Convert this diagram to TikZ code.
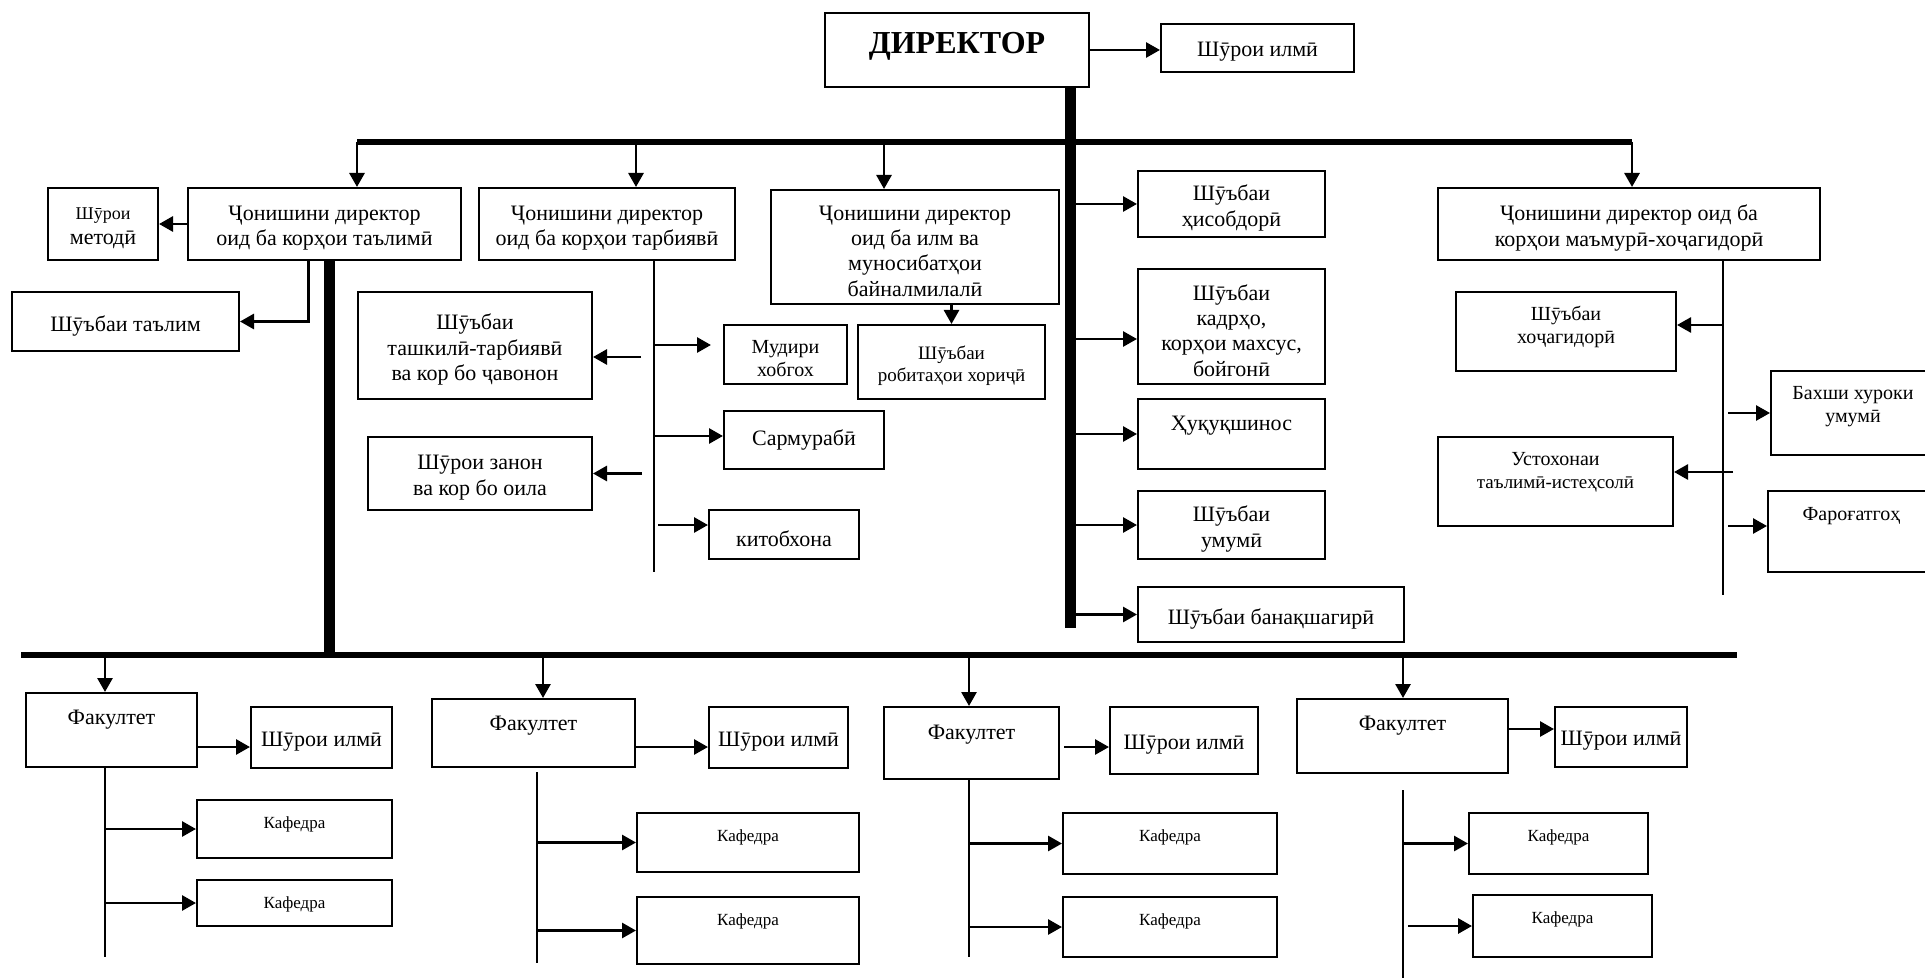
\documentclass[tikz,border=0pt]{standalone}
\usepackage{fontspec}
\setmainfont{Liberation Serif}
\usetikzlibrary{arrows.meta,fit,calc}
\newcommand{\fs}[1]{\fontsize{#1}{1.15\dimexpr #1pt\relax}\selectfont}

\begin{document}
\begin{tikzpicture}[x=0.5pt,y=-0.5pt,
  box/.style={draw,line width=1pt,inner sep=0pt},
  txt/.style={anchor=center,align=center,font=\fs{11},yshift=-2pt},
  toplbl/.style={anchor=center,align=center,yshift=-#1},
  arr/.style={line width=1.4pt,-{Triangle[length=7pt,width=7.5pt]}},
  ln/.style={line width=1.4pt},
  bus/.style={line width=3pt},
  bar/.style={line width=5.5pt}]
\useasboundingbox (0,0) rectangle (1925,978);
\clip (0,0) rectangle (1925,978);

\node[box,fit={(825,13) (1089,87)},label={[toplbl=17pt,font=\bfseries\fs{16}]north:ДИРЕКТОР}] (dir) {};
\node[box,fit={(1161,24) (1354,72)},label={[txt]center:Шӯрои илмӣ}] (ilmi) {};

\node[box,fit={(188,188) (461,260)},label={[txt]center:Ҷонишини директор\\оид ба корҳои таълимӣ}] (dep1) {};
\node[box,fit={(479,188) (735,260)},label={[txt]center:Ҷонишини директор\\оид ба корҳои тарбиявӣ}] (dep2) {};
\node[box,fit={(771,190) (1059,304)},label={[txt]center:Ҷонишини директор\\оид ба илм ва\\муносибатҳои\\байналмилалӣ}] (dep3) {};
\node[box,fit={(1438,188) (1820,260)},label={[txt]center:Ҷонишини директор оид ба\\корҳои маъмурӣ-хоҷагидорӣ}] (dep5) {};

\node[box,fit={(48,188) (158,260)},label={[txt]center:{\fs{9}Шӯрои}\\методӣ}] (metod) {};
\node[box,fit={(12,292) (239,351)},label={[txt]center:Шӯъбаи таълим}] (talim) {};
\node[box,fit={(358,292) (592,399)},label={[txt]center:Шӯъбаи\\ташкилӣ-тарбиявӣ\\ва кор бо ҷавонон}] (tashkil) {};
\node[box,fit={(368,437) (592,510)},label={[txt]center:Шӯрои занон\\ва кор бо оила}] (zanon) {};

\node[box,fit={(724,325) (847,384)},label={[txt,font=\fs{10}]center:Мудири\\хобгох}] (hobgoh) {};
\node[box,fit={(858,325) (1045,399)},label={[txt,font=\fs{9.5}]center:Шӯъбаи\\робитаҳои хориҷӣ}] (robita) {};
\node[box,fit={(724,411) (884,469)},label={[txt,yshift=2pt]center:Сармурабӣ}] (sarmur) {};
\node[box,fit={(709,510) (859,559)},label={[txt]center:китобхона}] (kitob) {};

\node[box,fit={(1138,171) (1325,237)},label={[txt]center:Шӯъбаи\\ҳисобдорӣ}] (hisob) {};
\node[box,fit={(1138,269) (1325,384)},label={[txt]center:Шӯъбаи\\кадрҳо,\\корҳои махсус,\\бойгонӣ}] (kadr) {};
\node[box,fit={(1138,399) (1325,469)},label={[toplbl=14pt,font=\fs{11}]north:Ҳуқуқшинос}] (huquq) {};
\node[box,fit={(1138,491) (1325,559)},label={[txt]center:Шӯъбаи\\умумӣ}] (umumi) {};
\node[box,fit={(1138,587) (1404,642)},label={[txt]center:Шӯъбаи банақшагирӣ}] (banaq) {};

\node[box,fit={(1456,292) (1676,371)},label={[toplbl=18pt,font=\fs{10}]north:Шӯъбаи\\хоҷагидорӣ}] (hojagi) {};
\node[box,fit={(1771,371) (1935,455)},label={[toplbl=18.5pt,font=\fs{10}]north:Бахши хуроки\\умумӣ}] (bahsh) {};
\node[box,fit={(1438,437) (1673,526)},label={[toplbl=18pt,font=\fs{10}]north:Устохонаи\\{\fs{9.5}таълимӣ-истеҳсолӣ}}] (ustoh) {};
\node[box,fit={(1768,491) (1935,572)},label={[toplbl=13pt,font=\fs{10}]north:Фароғатгоҳ}] (farog) {};

\node[box,fit={(26,693) (197,767)},label={[toplbl=14pt,font=\fs{11}]north:Факултет}] (f1) {};
\node[box,fit={(251,707) (392,768)},label={[txt]center:Шӯрои илмӣ}] (sh1) {};
\node[box,fit={(197,800) (392,858)},label={[toplbl=12.5pt,font=\fs{8.5}]north:Кафедра}] (k1a) {};
\node[box,fit={(197,880) (392,926)},label={[toplbl=12.5pt,font=\fs{8.5}]north:Кафедра}] (k1b) {};

\node[box,fit={(432,699) (635,767)},label={[toplbl=14pt,font=\fs{11}]north:Факултет}] (f2) {};
\node[box,fit={(709,707) (848,768)},label={[txt]center:Шӯрои илмӣ}] (sh2) {};
\node[box,fit={(637,813) (859,872)},label={[toplbl=12.5pt,font=\fs{8.5}]north:Кафедра}] (k2a) {};
\node[box,fit={(637,897) (859,964)},label={[toplbl=12.5pt,font=\fs{8.5}]north:Кафедра}] (k2b) {};

\node[box,fit={(884,707) (1059,779)},label={[toplbl=14.5pt,font=\fs{11}]north:Факултет}] (f3) {};
\node[box,fit={(1110,707) (1258,774)},label={[txt]center:Шӯрои илмӣ}] (sh3) {};
\node[box,fit={(1063,813) (1277,874)},label={[toplbl=12.5pt,font=\fs{8.5}]north:Кафедра}] (k3a) {};
\node[box,fit={(1063,897) (1277,957)},label={[toplbl=12.5pt,font=\fs{8.5}]north:Кафедра}] (k3b) {};

\node[box,fit={(1297,699) (1508,773)},label={[toplbl=14pt,font=\fs{11}]north:Факултет}] (f4) {};
\node[box,fit={(1555,707) (1687,767)},label={[txt]center:Шӯрои илмӣ}] (sh4) {};
\node[box,fit={(1469,813) (1648,874)},label={[toplbl=12.5pt,font=\fs{8.5}]north:Кафедра}] (k4a) {};
\node[box,fit={(1473,895) (1652,957)},label={[toplbl=12.5pt,font=\fs{8.5}]north:Кафедра}] (k4b) {};

\coordinate (tb1) at (357,142);
\coordinate (tb2) at (636,142);
\coordinate (tb3) at (884,142);
\coordinate (tb5) at (1632,142);
\coordinate (db) at (1070,628);
\coordinate (bb1) at (329,655);
\coordinate (bs0) at (21,655);
\coordinate (bs9) at (1737,655);
\coordinate (bt1) at (105,655);
\coordinate (bt2) at (543,655);
\coordinate (bt3) at (969,655);
\coordinate (bt4) at (1403,655);
\coordinate (v2) at (654,572);
\coordinate (v5) at (1723,595);
\coordinate (fl1) at (105,957);
\coordinate (fl2a) at (537,772);
\coordinate (fl2) at (537,963);
\coordinate (fl3) at (969,957);
\coordinate (fl4a) at (1403,790);
\coordinate (fl4) at (1403,978);

\draw[arr] (dir.east) -- (dir.east -| ilmi.west);
\draw[bar] (db |- dir.south) -- (db);
\draw[bus] (tb1) -- (tb5);
\draw[arr] (tb1) -- (tb1 |- dep1.north);
\draw[arr] (tb2) -- (tb2 |- dep2.north);
\draw[arr] (tb3) -- (tb3 |- dep3.north);
\draw[arr] (tb5) -- (tb5 |- dep5.north);

\draw[arr] (dep1.west) -- (metod.east);
\draw[arr] ([xshift=-8pt]dep1.south) |- (talim.east);
\draw[bar] (bb1 |- dep1.south) -- (bb1);

\draw[ln] (v2 |- dep2.south) -- (v2);
\draw[arr,shorten <=6.5pt] (v2 |- 0,357) -- (tashkil.east |- 0,357);
\draw[arr,shorten >=6pt] (v2 |- 0,345) -- (hobgoh.west |- 0,345);
\draw[arr] (v2 |- 0,436) -- (sarmur.west |- 0,436);
\draw[arr,shorten <=6pt] (v2 |- zanon.east) -- (zanon.east);
\draw[arr,shorten <=2pt] (v2 |- 0,525) -- (kitob.west |- 0,525);

\draw[arr] (robita.north |- dep3.south) -- (robita.north);

\draw[arr] (db |- hisob.west) -- (hisob.west);
\draw[arr] (db |- 0,339) -- (kadr.west |- 0,339);
\draw[arr] (db |- huquq.west) -- (huquq.west);
\draw[arr] (db |- umumi.west) -- (umumi.west);
\draw[arr] (db |- banaq.west) -- (banaq.west);

\draw[ln] (v5 |- dep5.south) -- (v5);
\draw[arr] (v5 |- 0,325) -- (hojagi.east |- 0,325);
\draw[arr,shorten <=2.5pt] (v5 |- bahsh.west) -- (bahsh.west);
\draw[arr,shorten <=-5pt] (v5 |- 0,472) -- (ustoh.east |- 0,472);
\draw[arr,shorten <=2.5pt] (v5 |- 0,526) -- (farog.west |- 0,526);

\draw[bus] (bs0) -- (bs9);
\draw[arr] (bt1) -- (bt1 |- f1.north);
\draw[arr] (bt2) -- (bt2 |- f2.north);
\draw[arr] (bt3) -- (bt3 |- f3.north);
\draw[arr] (bt4) -- (bt4 |- f4.north);

\draw[arr] (f1.east |- 0,747) -- (sh1.west |- 0,747);
\draw[arr] (f2.east |- 0,747) -- (sh2.west |- 0,747);
\draw[arr,shorten <=2pt] (f3.east |- 0,747) -- (sh3.west |- 0,747);
\draw[arr] (f4.east |- 0,729) -- (sh4.west |- 0,729);

\draw[ln] (fl1 |- f1.south) -- (fl1);
\draw[arr] (fl1 |- k1a.west) -- (k1a.west);
\draw[arr] (fl1 |- k1b.west) -- (k1b.west);
\draw[ln] (fl2a) -- (fl2);
\draw[arr] (fl2 |- k2a.west) -- (k2a.west);
\draw[arr] (fl2 |- k2b.west) -- (k2b.west);
\draw[ln] (fl3 |- f3.south) -- (fl3);
\draw[arr] (fl3 |- k3a.west) -- (k3a.west);
\draw[arr] (fl3 |- k3b.west) -- (k3b.west);
\draw[ln] (fl4a) -- (fl4);
\draw[arr] (fl4 |- k4a.west) -- (k4a.west);
\draw[arr,shorten <=2.5pt] (fl4 |- k4b.west) -- (k4b.west);
\end{tikzpicture}
\end{document}
